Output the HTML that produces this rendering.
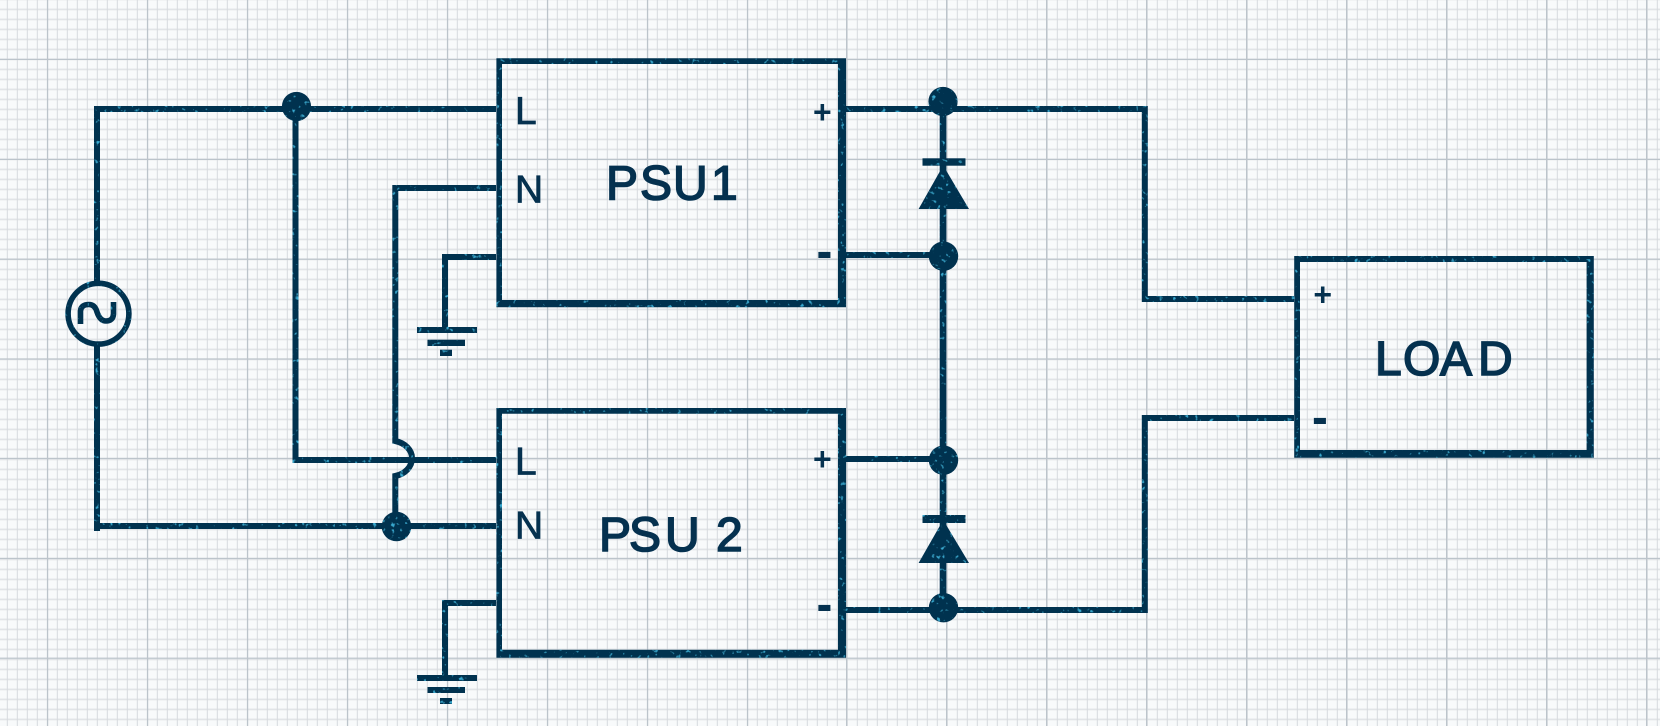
<!DOCTYPE html>
<html><head><meta charset="utf-8"><title>PSU diagram</title>
<style>html,body{margin:0;padding:0;background:#f8fafb}svg{display:block}
text{font-family:"Liberation Sans",sans-serif;fill:#05314f}</style></head>
<body>
<svg xmlns="http://www.w3.org/2000/svg" width="1660" height="726" viewBox="0 0 1660 726">
<defs>
<pattern id="hmin" width="10" height="10" patternUnits="userSpaceOnUse" y="9.3"><rect y="0" width="10" height="1" fill="#e0e3e6"/><rect y="9.2" width="10" height=".8" fill="#e4e6e9"/></pattern>
<pattern id="vmin" width="10" height="10" patternUnits="userSpaceOnUse" x="6.8"><rect x="0" width="1" height="10" fill="#d6dade"/></pattern>
<filter id="noise" x="0" y="0" width="100%" height="100%" filterUnits="userSpaceOnUse" primitiveUnits="userSpaceOnUse">
<feTurbulence type="fractalNoise" baseFrequency="0.22" numOctaves="2" seed="4" result="t"/>
<feColorMatrix in="t" type="matrix" values="0 0 0 0 .04  0 0 0 0 .40  0 0 0 0 .64  0 0 0 6 -3.9" result="c"/>
<feComposite in="c" in2="SourceAlpha" operator="in" result="s"/>
<feMerge><feMergeNode in="SourceGraphic"/><feMergeNode in="s"/></feMerge>
</filter>
</defs>
<rect width="1660" height="726" fill="#f8fafb"/>
<rect width="1660" height="726" fill="url(#hmin)"/>
<rect width="1660" height="726" fill="url(#vmin)"/>
<g fill="#bcc4cb">
<rect x="47" y="0" width="1.2" height="726"/><rect x="147" y="0" width="1.2" height="726"/><rect x="247" y="0" width="1.2" height="726"/><rect x="347" y="0" width="1.2" height="726"/><rect x="447" y="0" width="1.2" height="726"/><rect x="547" y="0" width="1.2" height="726"/><rect x="647" y="0" width="1.2" height="726"/><rect x="747" y="0" width="1.2" height="726"/><rect x="846" y="0" width="1.2" height="726"/><rect x="946" y="0" width="1.2" height="726"/><rect x="1046" y="0" width="1.2" height="726"/><rect x="1146" y="0" width="1.2" height="726"/><rect x="1246" y="0" width="1.2" height="726"/><rect x="1346" y="0" width="1.2" height="726"/><rect x="1446" y="0" width="1.2" height="726"/><rect x="1546" y="0" width="1.2" height="726"/><rect x="1646" y="0" width="1.2" height="726"/>
<rect x="0" y="58.8" width="1660" height="1.2"/><rect x="0" y="158.8" width="1660" height="1.2"/><rect x="0" y="258.6" width="1660" height="1.2"/><rect x="0" y="358.4" width="1660" height="1.2"/><rect x="0" y="457.8" width="1660" height="1.2"/><rect x="0" y="557.8" width="1660" height="1.2"/><rect x="0" y="657.6" width="1660" height="1.2"/>
</g>
<g filter="url(#noise)">
<g fill="none" stroke="#03304f" stroke-width="6" stroke-linejoin="miter">
<path d="M496 109H97V282"/>
<path d="M97 346V531"/>
<path d="M94 526H496"/>
<path d="M295.5 109V460H496"/>
<path d="M496 188H395.3V441C405 443 412 450 412 458C412 467 405 474 395.3 476V515"/>
<path d="M496 257H445V328"/>
<path d="M496 603H445V676"/>
<path d="M846 109H1144.8V299H1294"/>
<path d="M1294 418H1144.8V610H846"/>
<path d="M846 255H935"/>
<path d="M846 459H935"/>
<path d="M943 101V608" stroke-width="6.6"/>
</g>
<g fill="#03304f">
<path fill-rule="evenodd" d="M496.4 58.3H846V307.3H496.4ZM502 64V300H838V64Z"/>
<path fill-rule="evenodd" d="M496.4 408H846V657.7H496.4ZM502 413.7V649.7H838V413.7Z"/>
<path fill-rule="evenodd" d="M1294.2 256H1593.8V457.7H1294.2ZM1300 262V450H1586.6V262Z"/>
<circle cx="296.5" cy="106.5" r="14.6"/>
<circle cx="396.5" cy="526.5" r="14.8"/>
<circle cx="943" cy="101.5" r="14.6"/>
<circle cx="943.5" cy="256.2" r="14.7"/>
<circle cx="943.5" cy="460.2" r="14.7"/>
<circle cx="943.5" cy="607.7" r="14.7"/>
<rect x="922.5" y="158.3" width="43" height="7.4"/>
<path d="M943.2 165.5L969 209H918.6Z"/>
<rect x="922.5" y="515" width="43" height="8"/>
<path d="M943.2 520L969 563H918.6Z"/>
<rect x="417" y="327" width="60" height="6"/><rect x="427.5" y="339.7" width="37.5" height="6.3"/><rect x="440" y="349.7" width="12" height="6.3"/>
<rect x="417" y="675" width="60" height="6"/><rect x="427.5" y="687" width="37.5" height="6"/><rect x="440" y="698" width="12" height="6"/>
</g>
<circle cx="98.5" cy="313.7" r="30.4" fill="none" stroke="#03304f" stroke-width="5.6"/>
<path d="M80.5 324V311Q81 304.5 89 304.5Q95 304.5 97 312Q100 321 106 321Q113 321 113.5 314V302" fill="none" stroke="#03304f" stroke-width="5.6"/>
</g>
<g font-size="48" stroke="#05314f" stroke-width="1.6">
<text x="606 640 673 700 711" y="199.5">PSU 1</text>
<text x="599 629 665 700 716" y="551">PSU 2</text>
<text x="1375 1403 1440 1478" y="375">LOAD</text>
</g>
<g font-size="39" stroke="#05314f" stroke-width=".8">
<text x="515" y="124">L</text>
<text x="515" y="202.5">N</text>
<text x="515" y="474.5">L</text>
<text x="515" y="538.5">N</text>
</g>
<g font-weight="bold">
<text x="813" y="123" font-size="32">+</text>
<text x="813" y="470" font-size="32">+</text>
<text x="1313.4" y="305.5" font-size="32">+</text>
<text transform="translate(816.5 268) scale(1.4 1.5)" font-size="34">-</text>
<text transform="translate(816.5 621) scale(1.4 1.5)" font-size="34">-</text>
<text transform="translate(1312 434) scale(1.4 1.5)" font-size="34">-</text>
</g>
</svg>
</body></html>
